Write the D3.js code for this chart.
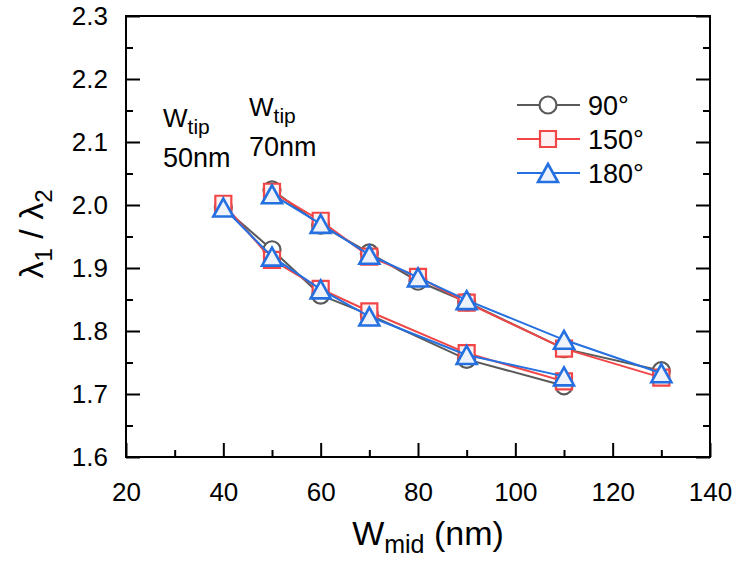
<!DOCTYPE html>
<html>
<head>
<meta charset="utf-8">
<script src="https://cdn.jsdelivr.net/npm/d3@7"></script>
<style>
  html, body { margin: 0; padding: 0; background: #fff; }
  svg { display: block; font-family: "Liberation Sans", Arial, sans-serif; }
</style>
</head>
<body>
<svg id="chart" width="735" height="562"></svg>
<script>
// W_mid values (nm) for the two tip widths
const xTip70 = [50, 60, 70, 80, 90, 110, 130];
const xTip50 = [40, 50, 60, 70, 90, 110];

// λ1/λ2 ratio, W_tip = 70 nm
const tip70_90  = [2.024, 1.968, 1.924, 1.879, 1.846, 1.772, 1.737];
const tip70_150 = [2.021, 1.975, 1.918, 1.886, 1.845, 1.772, 1.726];
const tip70_180 = [2.017, 1.970, 1.921, 1.885, 1.849, 1.786, 1.733];

// λ1/λ2 ratio, W_tip = 50 nm
const tip50_90  = [1.996, 1.929, 1.857, 1.826, 1.755, 1.713];
const tip50_150 = [2.002, 1.913, 1.867, 1.831, 1.765, 1.720];
const tip50_180 = [1.996, 1.918, 1.866, 1.823, 1.762, 1.728];

const angleLabels = ["90°", "150°", "180°"];
const xMajorTicks = [20, 40, 60, 80, 100, 120, 140];
const xMinorTicks = [30, 50, 70, 90, 110, 130];
const yMajorTicks = [1.6, 1.7, 1.8, 1.9, 2.0, 2.1, 2.2, 2.3];
const yMinorTicks = [1.65, 1.75, 1.85, 1.95, 2.05, 2.15, 2.25];

const svg = d3.select("#chart");
const plot = { left: 126, right: 710, top: 16, bottom: 457 };

const x = d3.scaleLinear().domain([20, 140]).range([plot.left, plot.right]);
const y = d3.scaleLinear().domain([1.6, 2.3]).range([plot.bottom, plot.top]);

// Triangle centred on its bounding box
const boxTriangle = {
  draw(ctx, size) {
    const w = Math.sqrt(size);
    const h = w * 0.9;
    ctx.moveTo(0, -h / 2);
    ctx.lineTo(w / 2, h / 2);
    ctx.lineTo(-w / 2, h / 2);
    ctx.closePath();
  }
};

const styles = [
  { stroke: "#5a5a5a", fill: "#ffffff", symbol: d3.symbolCircle, size: Math.PI * 8.5 * 8.5, width: 2.2 },
  { stroke: "#f24646", fill: "#fdf1f1", symbol: d3.symbolSquare, size: 16 * 16, width: 2.2 },
  { stroke: "#2470e0", fill: "#eef3fb", symbol: boxTriangle, size: 20 * 20, width: 2.6 }
];

const groups = [
  [{ xs: xTip50, ys: tip50_90 },  { xs: xTip70, ys: tip70_90 }],
  [{ xs: xTip50, ys: tip50_150 }, { xs: xTip70, ys: tip70_150 }],
  [{ xs: xTip50, ys: tip50_180 }, { xs: xTip70, ys: tip70_180 }]
];

// Axes: inward ticks on bottom, left and right
function axisGroup(axis, transform) {
  const g = svg.append("g").attr("transform", transform).call(axis);
  g.select(".domain").remove();
  g.selectAll(".tick line").attr("stroke", "#000").attr("stroke-width", 2);
  return g;
}

const fontTick = 26;
const gxMaj = axisGroup(
  d3.axisBottom(x).tickValues(xMajorTicks).tickSize(-14).tickPadding(26).tickFormat(d3.format("d")),
  `translate(0,${plot.bottom})`);
axisGroup(d3.axisBottom(x).tickValues(xMinorTicks).tickSize(-7).tickFormat(""),
  `translate(0,${plot.bottom})`);
const gyMaj = axisGroup(
  d3.axisLeft(y).tickValues(yMajorTicks).tickSize(-14).tickPadding(18).tickFormat(d3.format(".1f")),
  `translate(${plot.left},0)`);
axisGroup(d3.axisLeft(y).tickValues(yMinorTicks).tickSize(-7).tickFormat(""),
  `translate(${plot.left},0)`);
axisGroup(d3.axisRight(y).tickValues(yMajorTicks).tickSize(-14).tickFormat(""),
  `translate(${plot.right},0)`);
axisGroup(d3.axisRight(y).tickValues(yMinorTicks).tickSize(-7).tickFormat(""),
  `translate(${plot.right},0)`);

[gxMaj, gyMaj].forEach(g => g.selectAll(".tick text")
  .attr("fill", "#000").style("font-size", fontTick + "px")
  .style("font-family", "'Liberation Sans', Arial, sans-serif"));

// Frame
svg.append("rect")
  .attr("x", plot.left).attr("y", plot.top)
  .attr("width", plot.right - plot.left).attr("height", plot.bottom - plot.top)
  .attr("fill", "none").attr("stroke", "#000").attr("stroke-width", 2);

// Series lines and markers
const line = d3.line().x(d => x(d[0])).y(d => y(d[1]));
groups.forEach((grp, i) => {
  const st = styles[i];
  const g = svg.append("g");
  grp.forEach(s => {
    const pts = s.xs.map((v, k) => [v, s.ys[k]]);
    g.append("path").datum(pts).attr("d", line)
      .attr("fill", "none").attr("stroke", st.stroke).attr("stroke-width", 2);
  });
  grp.forEach(s => {
    const pts = s.xs.map((v, k) => [v, s.ys[k]]);
    g.selectAll(null).data(pts).enter().append("path")
      .attr("d", d3.symbol().type(st.symbol).size(st.size))
      .attr("transform", d => `translate(${x(d[0])},${y(d[1])})`)
      .attr("fill", st.fill).attr("stroke", st.stroke).attr("stroke-width", st.width);
  });
});

// Legend
const legend = svg.append("g");
const legendY = [105, 139, 173];
angleLabels.forEach((lab, i) => {
  const st = styles[i];
  legend.append("line").attr("x1", 517).attr("x2", 580).attr("y1", legendY[i]).attr("y2", legendY[i])
    .attr("stroke", st.stroke).attr("stroke-width", 2);
  legend.append("path").attr("d", d3.symbol().type(st.symbol).size(st.size))
    .attr("transform", `translate(548,${legendY[i]})`)
    .attr("fill", st.fill).attr("stroke", st.stroke).attr("stroke-width", st.width);
  legend.append("text").attr("x", 588).attr("y", legendY[i] + 10)
    .style("font-size", "27px").text(lab);
});

// Tip-width annotations
function tipNote(xp, yp, value) {
  const t = svg.append("text").attr("x", xp).attr("y", yp).style("font-size", "26px");
  t.append("tspan").text("W");
  t.append("tspan").attr("dy", 7).style("font-size", "21px").text("tip");
  svg.append("text").attr("x", xp).attr("y", yp + 40).style("font-size", "27px").text(value);
}
tipNote(163, 127, "50nm");
tipNote(249, 116, "70nm");

// Axis titles
const xt = svg.append("text").attr("x", 428).attr("y", 545).attr("text-anchor", "middle")
  .style("font-size", "34px");
xt.append("tspan").text("W");
xt.append("tspan").attr("dy", 8).style("font-size", "25px").text("mid");
xt.append("tspan").attr("dy", -8).text(" (nm)");

const yt = svg.append("text").attr("transform", "translate(43,234) rotate(-90)")
  .attr("text-anchor", "middle").style("font-size", "34px");
yt.append("tspan").text("λ");
yt.append("tspan").attr("dy", 9).style("font-size", "24px").text("1");
yt.append("tspan").attr("dy", -9).text(" / λ");
yt.append("tspan").attr("dy", 9).style("font-size", "24px").text("2");
</script>
</body>
</html>
